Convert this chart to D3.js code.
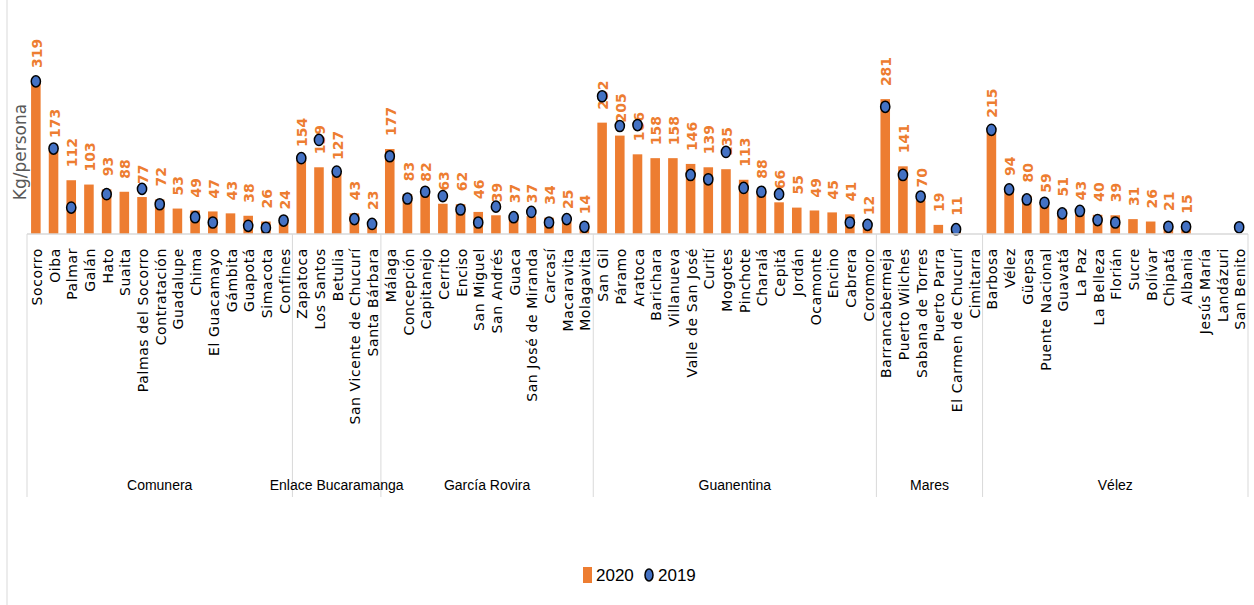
<!DOCTYPE html>
<html>
<head>
<meta charset="utf-8">
<script src="https://cdn.jsdelivr.net/npm/d3@7"></script>
<style>
  body { margin: 0; background: #fff; }
  svg { display: block; }
</style>
</head>
<body>
<svg id="chart"></svg>
<script>
const width = 1254;
const height = 605;

// provinces and their municipalities, in drawing order
const groups = ['Comunera', 'Enlace Bucaramanga', 'García Rovira', 'Guanentina', 'Mares', 'Vélez'];
const groupSizes = [15, 5, 12, 16, 6, 15];

const towns = [
    'Socorro', 'Oiba', 'Palmar', 'Galán', 'Hato', 'Suaita', 'Palmas del Socorro', 'Contratación',
    'Guadalupe', 'Chima', 'El Guacamayo', 'Gámbita', 'Guapotá', 'Simacota', 'Confines',
    'Zapatoca', 'Los Santos', 'Betulia', 'San Vicente de Chucurí', 'Santa Bárbara',
    'Málaga', 'Concepción', 'Capitanejo', 'Cerrito', 'Enciso', 'San Miguel', 'San Andrés',
    'Guaca', 'San José de Miranda', 'Carcasí', 'Macaravita', 'Molagavita',
    'San Gil', 'Páramo', 'Aratoca', 'Barichara', 'Villanueva', 'Valle de San José', 'Curití',
    'Mogotes', 'Pinchote', 'Charalá', 'Cepitá', 'Jordán', 'Ocamonte', 'Encino', 'Cabrera', 'Coromoro',
    'Barrancabermeja', 'Puerto Wilches', 'Sabana de Torres', 'Puerto Parra', 'El Carmen de Chucurí', 'Cimitarra',
    'Barbosa', 'Vélez', 'Güepsa', 'Puente Nacional', 'Guavatá', 'La Paz', 'La Belleza', 'Florián',
    'Sucre', 'Bolívar', 'Chipatá', 'Albania', 'Jesús María', 'Landázuri', 'San Benito'
];

const values2020 = [
    319, 173, 112, 103, 93, 88, 77, 72, 53, 49, 47, 43, 38, 26, 24,
    154, 139, 127, 43, 23,
    177, 83, 82, 63, 62, 46, 39, 37, 37, 34, 25, 14,
    232, 205, 166, 158, 158, 146, 139, 135, 113, 88, 66, 55, 49, 45, 41, 12,
    281, 141, 70, 19, 11, null,
    215, 94, 80, 59, 51, 43, 40, 39, 31, 26, 21, 15, null, null, null
];

const values2019 = [
    318, 178, 55, null, 83, null, 94, 62, null, 35, 24, null, 17, 13, 28,
    158, 196, 130, 31, 21,
    162, 74, 88, 79, 51, 24, 57, 35, 46, 24, 31, 15,
    287, 225, 227, null, null, 123, 114, 171, 96, 88, 83, null, null, null, 24, 19,
    265, 123, 78, null, 10, null,
    217, 93, 72, 65, 43, 48, 29, 24, null, null, 15, 15, null, null, 14
];

const orange = '#ED7D31';
const blue = '#4472C4';
const grid = '#d9d9d9';

const left = 27;
const right = 1248;
const baseY = 234;

const svg = d3.select('#chart')
    .attr('width', width)
    .attr('height', height);

const x = d3.scaleBand().domain(towns).range([left, right]).paddingInner(0.46).paddingOuter(0.23);
const y = d3.scaleLinear().domain([0, 350]).range([baseY, baseY - 350 * 0.48]);
const step = x.step();

// outer frame line on the left
svg.append('line')
    .attr('x1', 7).attr('x2', 7).attr('y1', 0).attr('y2', height)
    .attr('stroke', grid);

// y axis title
svg.append('text')
    .attr('transform', `translate(26, 152) rotate(-90)`)
    .attr('text-anchor', 'middle')
    .style('font-family', 'DejaVu Sans')
    .style('font-size', '17px')
    .style('fill', '#595959')
    .text('Kg/persona');

// bars 2020
svg.selectAll('rect.bar')
    .data(towns.map((t, i) => ({town: t, v: values2020[i]})).filter(d => d.v != null))
    .enter()
    .append('rect')
    .attr('class', 'bar')
    .attr('x', d => x(d.town))
    .attr('y', d => y(d.v))
    .attr('width', x.bandwidth())
    .attr('height', d => baseY - y(d.v))
    .style('fill', orange);

// value labels
svg.selectAll('text.val')
    .data(towns.map((t, i) => ({town: t, v: values2020[i]})).filter(d => d.v != null))
    .enter()
    .append('text')
    .attr('class', 'val')
    .attr('transform', d => `translate(${x(d.town) + x.bandwidth() / 2 + 1}, ${y(d.v) - 13}) rotate(-90)`)
    .attr('dy', '0.36em')
    .style('font-family', 'DejaVu Sans')
    .style('font-weight', 'bold')
    .style('font-size', '14px')
    .style('fill', orange)
    .text(d => d.v);

// dots 2019
svg.selectAll('ellipse.dot')
    .data(towns.map((t, i) => ({town: t, v: values2019[i]})).filter(d => d.v != null))
    .enter()
    .append('ellipse')
    .attr('class', 'dot')
    .attr('cx', d => x(d.town) + x.bandwidth() / 2)
    .attr('cy', d => y(d.v))
    .attr('rx', 4.6)
    .attr('ry', 5.6)
    .style('fill', blue)
    .style('stroke', '#000')
    .style('stroke-width', 1.5);

// category axis
svg.append('line')
    .attr('x1', left).attr('x2', right).attr('y1', baseY).attr('y2', baseY)
    .attr('stroke', grid).attr('stroke-width', 1.5);

svg.selectAll('text.town')
    .data(towns)
    .enter()
    .append('text')
    .attr('class', 'town')
    .attr('transform', d => `translate(${x(d) + x.bandwidth() / 2 + 1}, 248) rotate(-90)`)
    .attr('text-anchor', 'end')
    .attr('dy', '0.36em')
    .style('font-family', 'DejaVu Sans')
    .style('font-size', '14px')
    .style('letter-spacing', '0.6px')
    .style('fill', '#000')
    .text(d => d);

// province dividers and labels
let start = 0;
const bounds = [0];
groupSizes.forEach(n => { start += n; bounds.push(start); });

svg.selectAll('line.div')
    .data(bounds)
    .enter()
    .append('line')
    .attr('class', 'div')
    .attr('x1', d => left + d * step).attr('x2', d => left + d * step)
    .attr('y1', baseY).attr('y2', 497)
    .attr('stroke', grid);

svg.selectAll('text.group')
    .data(groups)
    .enter()
    .append('text')
    .attr('class', 'group')
    .attr('x', (d, i) => left + (bounds[i] + bounds[i + 1]) / 2 * step)
    .attr('y', 490)
    .attr('text-anchor', 'middle')
    .style('font-family', 'Liberation Sans')
    .style('font-size', '14px')
    .style('fill', '#000')
    .text(d => d);

// legend
const legend = svg.append('g').attr('transform', 'translate(583, 575)');
legend.append('rect')
    .attr('x', 0).attr('y', -8).attr('width', 9).attr('height', 16)
    .style('fill', orange);
legend.append('text')
    .attr('x', 13).attr('y', 0).attr('dy', '0.36em')
    .style('font-family', 'Liberation Sans')
    .style('font-size', '17px')
    .text('2020');
legend.append('ellipse')
    .attr('cx', 66).attr('cy', 0).attr('rx', 4).attr('ry', 6)
    .style('fill', blue).style('stroke', '#000').style('stroke-width', 1.5);
legend.append('text')
    .attr('x', 75).attr('y', 0).attr('dy', '0.36em')
    .style('font-family', 'Liberation Sans')
    .style('font-size', '17px')
    .text('2019');
</script>
</body>
</html>
